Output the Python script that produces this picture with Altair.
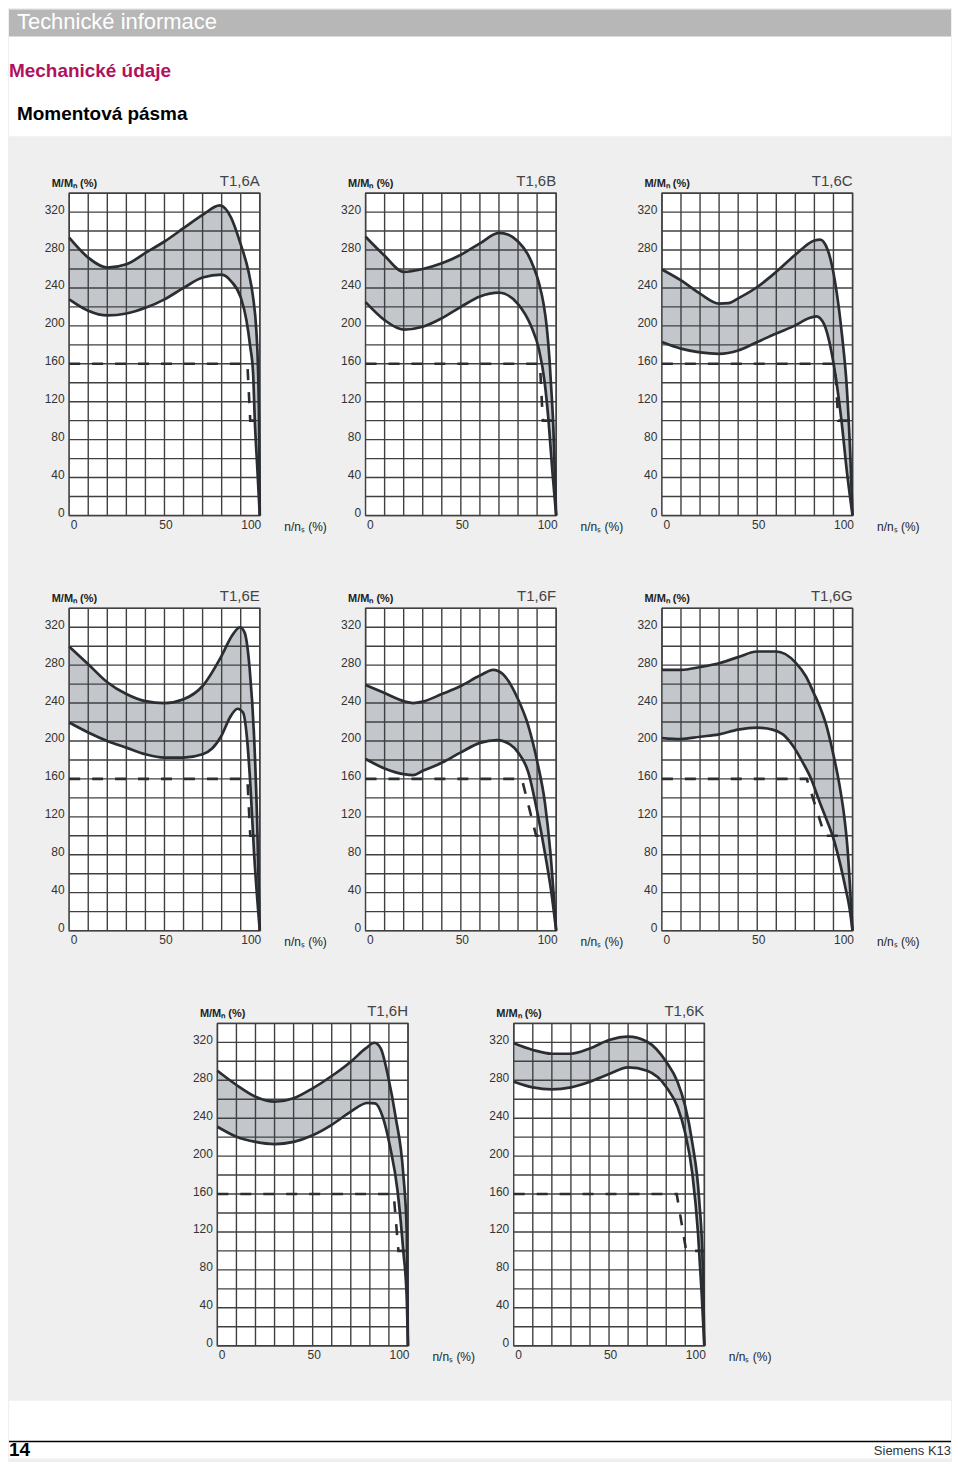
import altair as alt
import pandas as pd

# ---------------- data ----------------
TITLES = ["T1,6A", "T1,6B", "T1,6C", "T1,6E", "T1,6F", "T1,6G", "T1,6H", "T1,6K"]

X_LABELS = [0, 50, 100]
Y_LABELS = [0, 40, 80, 120, 160, 200, 240, 280, 320]
X_GRID = [0, 10, 20, 30, 40, 50, 60, 70, 80, 90, 100]
Y_GRID = [0, 20, 40, 60, 80, 100, 120, 140, 160, 180, 200, 220, 240, 260, 280, 300, 320, 340]

A_UPPER = [(0, 293), (10, 272), (20, 261.5), (30, 265), (40, 277), (50, 289), (60, 303), (70, 317),
           (79, 327), (85, 314), (90, 286), (94, 258), (96.5, 230), (98.2, 195), (99, 160), (99.6, 100), (100, 0)]
A_LOWER = [(0, 228), (10, 216), (20, 211), (30, 213), (40, 219), (50, 228), (60, 240), (70, 251),
           (80, 254), (85, 247), (90, 230), (93, 206), (95, 178), (96.5, 150), (97.4, 100), (98.7, 50), (100, 0)]
A_DASH = [(0, 160), (93.5, 160), (95, 100), (100, 100)]

B_UPPER = [(0, 294), (10, 274), (20, 257), (30, 260), (40, 266), (50, 275), (60, 287), (70, 298),
           (75, 296), (80, 289), (85, 276), (88, 263), (91, 245), (93.5, 222), (95, 200), (96.5, 165),
           (97.7, 125), (98.5, 95), (100, 0)]
B_LOWER = [(0, 225), (10, 206), (20, 196), (30, 199), (40, 208), (50, 220), (60, 231), (70, 235),
           (80, 223), (87, 199), (91, 175), (94, 140), (96, 100), (98, 47), (100, 0)]
B_DASH = [(0, 160), (91.5, 160), (93, 100), (100, 100)]

C_UPPER = [(0, 259.5), (10, 248), (20, 234), (30, 223.5), (35, 224), (40, 229), (50, 241), (60, 257),
           (70, 275), (80, 290), (83, 291), (87, 280), (90.7, 248), (94.6, 188), (97, 135), (98.8, 65), (100, 0)]
C_LOWER = [(0, 183), (10, 176), (20, 172), (30, 170.5), (40, 174), (50, 183), (60, 192), (70, 200.5),
           (77, 208), (81, 210), (85, 202), (88.8, 174), (91.7, 139), (94.2, 100), (97, 47), (100, 0)]
C_DASH = [(0, 160), (90.8, 160), (92.5, 100), (100, 100)]

E_UPPER = [(0, 299.5), (10, 281), (20, 262), (30, 249.5), (40, 242), (50, 240), (60, 244), (70, 258),
           (80, 290), (85.4, 311), (89.6, 320), (92, 314.6), (94.7, 276), (97, 205), (98.6, 117), (100, 0)]
E_LOWER = [(0, 219.5), (10, 209), (20, 200), (30, 193), (40, 186), (50, 182.5), (60, 182.5), (70, 186),
           (75, 192), (80, 206), (84.4, 225), (88.3, 234), (91.2, 230), (93.2, 205), (95.1, 152.5),
           (97, 82), (100, 0)]
E_DASH = [(0, 160), (93.5, 160), (95, 100), (100, 100)]

F_UPPER = [(0, 259), (10, 250.5), (20, 242), (25, 240), (30, 241.5), (40, 249.5), (50, 258), (60, 269),
           (67, 275), (72, 270.6), (80, 244), (85.4, 216), (90.2, 177), (94.1, 135), (97, 82), (100, 0)]
F_LOWER = [(0, 181), (10, 171), (20, 165), (25, 164), (30, 168.5), (40, 177), (50, 188), (60, 198),
           (69, 201), (75.6, 196.6), (80, 188), (85.4, 167), (90.2, 124), (94.1, 82), (97.5, 40), (100, 0)]
F_DASH = [(0, 160), (82, 160), (89.5, 100), (94.5, 100)]

G_UPPER = [(0, 275), (10, 275), (20, 278), (30, 282), (40, 288.5), (50, 294.4), (60, 294.4), (70, 283),
           (75.6, 268), (79.8, 250), (82.7, 237), (86.2, 217), (89.7, 188), (93.2, 153), (95.8, 118),
           (97.5, 83.5), (98.7, 45), (100, 0)]
G_LOWER = [(0, 203), (10, 202), (20, 204.5), (30, 207), (40, 212), (50, 214), (58, 212), (63.5, 207),
           (68.7, 195), (74, 177), (78.3, 160), (82.7, 136), (86.2, 118), (89.7, 99), (93.2, 73),
           (96.3, 45), (98.4, 24), (100, 0)]
G_DASH = [(0, 160), (76, 160), (85.5, 100), (96, 100)]

H_UPPER = [(0, 290), (10, 275), (20, 262.6), (30, 257.4), (40, 261), (50, 271.5), (60, 284.5), (70, 299.6),
           (77.8, 313.6), (82.4, 319.6), (85.7, 313.6), (89.6, 283.8), (93.5, 241.6), (97.5, 182),
           (99.4, 118), (100, 0)]
H_LOWER = [(0, 231), (10, 220.5), (20, 215), (30, 212.7), (40, 215), (50, 222), (60, 233), (70, 247),
           (78.8, 256), (82.7, 255.6), (86.7, 241.6), (90.6, 210), (94.5, 164), (97.5, 101), (99.4, 48),
           (100, 0)]
H_DASH = [(0, 160), (92.5, 160), (95, 100), (100, 100)]

K_UPPER = [(0, 319), (10, 312), (20, 308), (30, 308), (40, 313.6), (50, 322.4), (60, 326), (70, 320.7),
           (80, 299.6), (85.9, 278.5), (89.8, 254), (93.7, 214), (97.3, 153.7), (99.2, 83), (100, 0)]
K_LOWER = [(0, 278.5), (10, 272.5), (20, 270.4), (30, 272.5), (40, 278.5), (50, 286.6), (60, 293.6),
           (70, 290), (80, 273), (85.9, 252), (89.8, 225.7), (93.7, 181.8), (96.7, 118.5), (98.6, 55),
           (100, 0)]
K_DASH = [(0, 160), (85.5, 160), (90.5, 100), (100, 100)]

# ---------------- styling ----------------
FONT = "Liberation Sans"
BAND = "#c3c6ca"
CURVE = "#2a2d31"
GRID = "#404040"
PLOT_W = 191
PLOT_H = 323


def panel(title, upper, lower, dash):
    up = pd.DataFrame(upper, columns=["x", "y"])
    lo = pd.DataFrame(lower, columns=["x", "y"])
    da = pd.DataFrame(dash, columns=["x", "y"])
    da["o"] = list(range(len(da)))
    xg = pd.DataFrame({"x": X_GRID})
    yg = pd.DataFrame({"y": Y_GRID})

    xs = alt.Scale(domain=[0, 100], nice=False, zero=False)
    ys = alt.Scale(domain=[0, 340], nice=False)
    x_enc = alt.X("x:Q", scale=xs, axis=alt.Axis(
        values=X_LABELS, title="n/nₛ (%)", titleAngle=0, titleAlign="left",
        titleBaseline="middle", titleX=PLOT_W + 24, titleY=11, titleFontSize=12,
        titleFontWeight="normal", titleColor="#222", labelPadding=4, labelOffset=1))
    y_enc = alt.Y("y:Q", scale=ys, axis=alt.Axis(
        values=Y_LABELS, title="M/Mₙ (%)", titleAngle=0, titleAlign="left",
        titleBaseline="alphabetic", titleX=-18, titleY=-7, titleFontSize=11,
        titleFontWeight="bold", titleColor="#222", labelPadding=5, labelOffset=-3))

    band = alt.Chart(up).mark_area(color=BAND, interpolate="monotone").encode(x=x_enc, y=y_enc)
    cut = alt.Chart(lo).mark_area(color="white", interpolate="monotone").encode(x="x:Q", y="y:Q")
    vgrid = alt.Chart(xg).mark_rule(color=GRID, strokeWidth=1.4).encode(x="x:Q")
    hgrid = alt.Chart(yg).mark_rule(color=GRID, strokeWidth=1.4).encode(y="y:Q")
    l_up = alt.Chart(up).mark_line(color=CURVE, strokeWidth=2.7, interpolate="monotone").encode(x="x:Q", y="y:Q")
    l_lo = alt.Chart(lo).mark_line(color=CURVE, strokeWidth=2.7, interpolate="monotone").encode(x="x:Q", y="y:Q")
    l_da = alt.Chart(da).mark_line(color=CURVE, strokeWidth=2.6, strokeDash=[11, 12]).encode(
        x="x:Q", y="y:Q", order="o:Q")

    return alt.layer(band, cut, vgrid, hgrid, l_up, l_lo, l_da).properties(
        width=PLOT_W, height=PLOT_H,
        title=alt.TitleParams(title, anchor="end", frame="group", fontSize=15, fontWeight="normal",
                              color="#444", font=FONT, offset=-12))


pA = panel(TITLES[0], A_UPPER, A_LOWER, A_DASH)
pB = panel(TITLES[1], B_UPPER, B_LOWER, B_DASH)
pC = panel(TITLES[2], C_UPPER, C_LOWER, C_DASH)
pE = panel(TITLES[3], E_UPPER, E_LOWER, E_DASH)
pF = panel(TITLES[4], F_UPPER, F_LOWER, F_DASH)
pG = panel(TITLES[5], G_UPPER, G_LOWER, G_DASH)
pH = panel(TITLES[6], H_UPPER, H_LOWER, H_DASH)
pK = panel(TITLES[7], K_UPPER, K_LOWER, K_DASH)

row1 = alt.hconcat(pA, pB, pC, spacing=106, bounds="flush")
row2 = alt.hconcat(pE, pF, pG, spacing=106, bounds="flush")
row3 = alt.hconcat(pH, pK, spacing=106, bounds="flush")
middle = alt.vconcat(row1, row2, row3, spacing=55, center=True)

# ---------------- header, spacer and footer ----------------
TOTAL_W = 944
one = pd.DataFrame({"a": [0]})
white_view = alt.ViewBackground(fill="white", strokeOpacity=0)
clear_view = alt.ViewBackground(fillOpacity=0, strokeOpacity=0)

spacer = alt.Chart(one).mark_rect(opacity=0).encode(
    x=alt.value(0), x2=alt.value(20), y=alt.value(0), y2=alt.value(10)
).properties(width=20, height=10, view=clear_view)
body = alt.hconcat(spacer, middle, spacing=14)

hdr_bar = alt.Chart(one).mark_rect(color="#b7b7b7").encode(
    x=alt.value(0), x2=alt.value(TOTAL_W), y=alt.value(0), y2=alt.value(27))
hdr_t1 = alt.Chart(one).mark_text(text="Technické informace", font=FONT, fontSize=22, color="white",
                                  align="left", baseline="middle").encode(x=alt.value(8), y=alt.value(13))
hdr_t2 = alt.Chart(one).mark_text(text="Mechanické údaje", font=FONT, fontSize=19, fontWeight="bold",
                                  color="#b0125d", align="left", baseline="middle").encode(
    x=alt.value(0), y=alt.value(62))
hdr_t3 = alt.Chart(one).mark_text(text="Momentová pásma", font=FONT, fontSize=19, fontWeight="bold",
                                  color="black", align="left", baseline="middle").encode(
    x=alt.value(8), y=alt.value(105))
header = alt.layer(hdr_bar, hdr_t1, hdr_t2, hdr_t3).properties(width=TOTAL_W, height=127, view=white_view)

ftr_line = alt.Chart(one).mark_rule(color="black", strokeWidth=1.5).encode(
    x=alt.value(0), x2=alt.value(TOTAL_W), y=alt.value(41))
ftr_num = alt.Chart(one).mark_text(text="14", font=FONT, fontSize=19, fontWeight="bold", color="black",
                                   align="left", baseline="middle").encode(x=alt.value(0), y=alt.value(50))
ftr_brand = alt.Chart(one).mark_text(text="Siemens K13", font=FONT, fontSize=13, color="#333",
                                     align="right", baseline="middle").encode(
    x=alt.value(TOTAL_W), y=alt.value(51))
footer = alt.layer(ftr_line, ftr_num, ftr_brand).properties(width=TOTAL_W, height=58, view=white_view)

chart = alt.vconcat(header, body, footer, spacing=37).properties(
    background="#efefef", padding=0
).configure_view(
    fill="white", stroke=GRID, strokeWidth=1.4
).configure_axis(
    labelFont=FONT, titleFont=FONT, labelFontSize=12, labelColor="#333",
    domain=False, ticks=False, grid=False
)

chart.save("out.html", embed_options={"renderer": "svg", "actions": False})
